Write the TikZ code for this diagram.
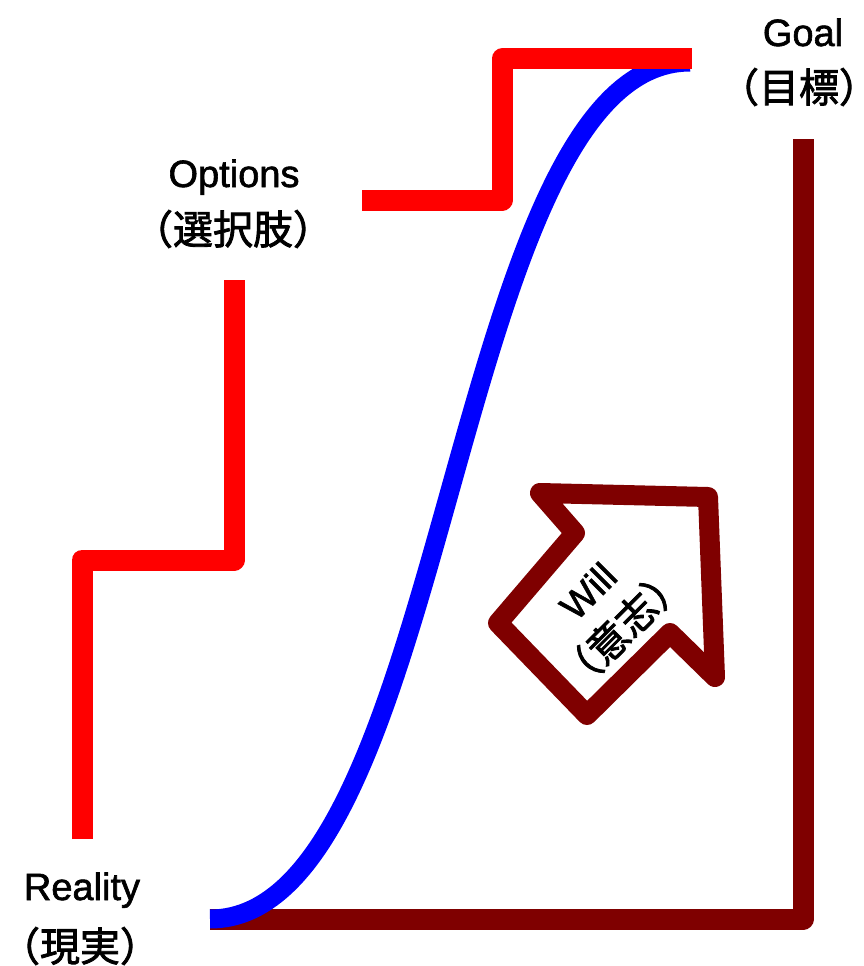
\documentclass[tikz,border=0pt]{standalone}
\usepackage{fontspec}
\setmainfont{Liberation Sans}
\newfontfamily\latf{Liberation Sans}[BoldFont=Liberation Sans, BoldFeatures={FakeBold=1.6}]
\newfontfamily\cjk{Noto Sans CJK JP}[BoldFont=Noto Sans CJK JP, BoldFeatures={FakeBold=2}]
\definecolor{stairred}{HTML}{FF0000}
\definecolor{curveblue}{HTML}{0000FF}
\definecolor{willbrown}{HTML}{7F0000}
\tikzset{
  redline/.style={draw=stairred, line width=21pt, line join=round},
  brownline/.style={draw=willbrown, line width=21pt, line join=round},
  blueline/.style={draw=curveblue, line width=19pt},
  willarrow/.style={draw=willbrown, line width=20pt, line join=round},
  latlbl/.style={inner sep=0pt, anchor=base, font=\fontsize{38}{40}\latf\bfseries},
  cjklbl/.style={inner sep=0pt, font=\fontsize{40}{42}\cjk\bfseries}
}
\begin{document}
\begin{tikzpicture}[x=1pt,y=-1pt]
\useasboundingbox (0,0) rectangle (863,966);
% coordinates
\coordinate (r0) at (82,839);
\coordinate (r1) at (82,560);
\coordinate (r2) at (234,560);
\coordinate (r3) at (234,280);
\coordinate (u0) at (362,200);
\coordinate (u1) at (502,200);
\coordinate (u2) at (502,59);
\coordinate (u3) at (692,59);
\coordinate (bstart) at (210,919);
\coordinate (bend) at (690,62);
\coordinate (w0) at (803,139);
\coordinate (w1) at (803,919);
\coordinate (w2) at (210,919);
% brown L
\draw[brownline] (w0) -- (w1) -- (w2);
% blue curve
\draw[blueline] (bstart) .. controls (450,919) and (450,62) .. (bend);
% red stairs
\draw[redline] (r0) -- (r1) -- (r2) -- (r3);
\draw[redline] (u0) -- (u1) -- (u2) -- (u3);
% arrow
\coordinate (a1) at (540,493);
\coordinate (a2) at (708,497);
\coordinate (a3) at (715,677);
\coordinate (a4) at (670,633);
\coordinate (a5) at (587,715);
\coordinate (a6) at (498,623);
\coordinate (a7) at (575,533);
\draw[willarrow] (a1) -- (a2) -- (a3) -- (a4) -- (a5) -- (a6) -- (a7) -- cycle;
% labels
\node[latlbl] (goal) at (803,46) {Goal};
\node[cjklbl] (goalj) at (799,87) {（目標）};
\node[latlbl] (options) at (234,187) {Options};
\node[cjklbl] (optionsj) at (233,229) {（選択肢）};
\node[latlbl] (reality) at (82,900) {Reality};
\node[cjklbl] (realityj) at (80,946) {（現実）};
\node[latlbl, anchor=center, rotate=45] (will) at (588,591) {Will};
\node[cjklbl, rotate=45] (willj) at (622,628) {（意志）};
\end{tikzpicture}
\end{document}
